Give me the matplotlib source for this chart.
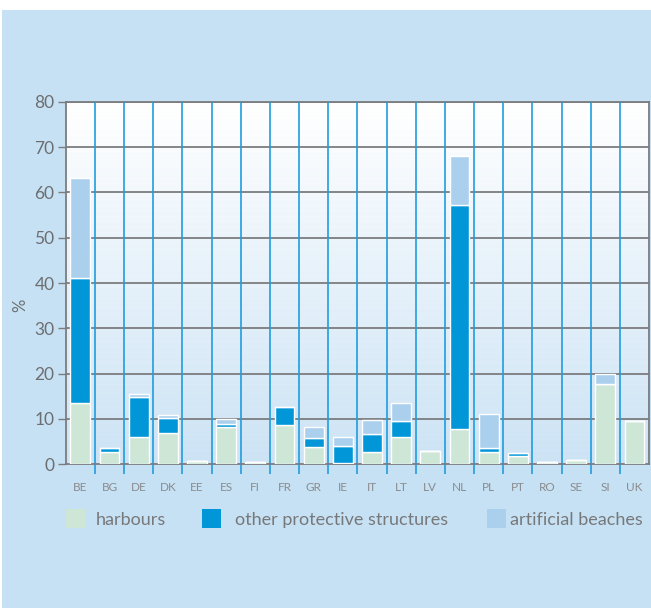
import numpy as np
import matplotlib.pyplot as plt
from matplotlib.patches import Rectangle

# data (% of coastline)
countries = ["BE", "BG", "DE", "DK", "EE", "ES", "FI", "FR", "GR", "IE",
             "IT", "LT", "LV", "NL", "PL", "PT", "RO", "SE", "SI", "UK"]
harbours = [13.5, 2.8, 6.1, 6.9, 0.8, 8.3, 0.4, 8.7, 3.9, 0.2,
            2.8, 6.1, 3.0, 7.7, 2.8, 1.8, 0.4, 0.9, 17.7, 9.6]
other_structures = [27.5, 0.9, 8.8, 3.4, 0.0, 0.7, 0.0, 3.9, 1.8, 3.9,
                    3.8, 3.5, 0.0, 49.6, 0.8, 0.6, 0.0, 0.0, 0.0, 0.0]
artificial_beaches = [22.2, 0.0, 0.7, 0.6, 0.0, 1.1, 0.0, 0.0, 2.6, 2.0,
                      3.1, 3.9, 0.0, 10.7, 7.4, 0.0, 0.0, 0.0, 2.2, 0.0]
series_names = ["harbours", "other protective structures", "artificial beaches"]
y_ticks = [0, 10, 20, 30, 40, 50, 60, 70, 80]

BG = "#c6e1f4"
COLORS = ["#cde6d5", "#0096d8", "#abd0ee"]
GRAY = "#6d6e70"
GRID_BLUE = "#1f9ddf"

W, H = 651, 608
fig = plt.figure(figsize=(W / 100, H / 100), dpi=100, facecolor="white")
plt.rcParams["font.family"] = ["Lato", "DejaVu Sans"]

# blue panel with a thin white margin on top / left
fig.patches.append(Rectangle((2 / W, 0), 1, (H - 10) / H, transform=fig.transFigure,
                             facecolor=BG, edgecolor="none", zorder=-10))

ax = fig.add_axes([65.7 / W, (H - 464.3) / H, (649 - 65.7) / W, 362.6 / H])
ax.set_facecolor("none")

# gradient background inside the plot area
grad = np.linspace(1.0, 0.0, 200)[:, None]
stripes = 0.03 * (np.arange(200)[:, None] % 3 == 0)
img = np.clip(grad + stripes, 0, 1)
top = np.array([1.0, 1.0, 1.0])
bot = np.array([0.80, 0.89, 0.96])
rgb = bot + (top - bot) * img[..., None]
rgb = np.repeat(rgb, 2, axis=1)
ax.imshow(rgb, extent=[-0.5, 19.5, 0, 80], aspect="auto", zorder=0)

x = np.arange(len(countries))
h = np.array(harbours)
o = np.array(other_structures)
a = np.array(artificial_beaches)
bw = 0.68
ax.bar(x, h, bw, color=COLORS[0], edgecolor="white", linewidth=1, zorder=3)
ax.bar(x, o, bw, bottom=h, color=COLORS[1], edgecolor="white", linewidth=1, zorder=3)
ax.bar(x, a, bw, bottom=h + o, color=COLORS[2], edgecolor="white", linewidth=1, zorder=3)

for yv in y_ticks[1:]:
    ax.axhline(yv, color="#7b7c7e", lw=1.3, zorder=1)
for b in np.arange(0.5, 19, 1):
    ax.axvline(b, color=GRID_BLUE, lw=1.2, zorder=2)

ax.set_xlim(-0.5, 19.5)
ax.set_ylim(0, 80)
ax.set_yticks(y_ticks)
ax.set_yticklabels([str(t) for t in y_ticks], fontsize=12.5, color=GRAY)
ax.tick_params(axis="y", direction="out", length=6, width=1, color="#7b7c7e", pad=2)
ax.set_xticks(x)
ax.set_xticklabels(countries, fontsize=8.5, color="#8a8b8d")
ax.tick_params(axis="x", which="major", length=0, pad=13)
ax.set_xticks(np.arange(0.5, 19, 1), minor=True)
ax.tick_params(axis="x", which="minor", direction="out", length=7, width=1.2, color=GRID_BLUE)

for side in ["left", "bottom", "right"]:
    ax.spines[side].set_color("#7b7c7e")
    ax.spines[side].set_linewidth(1.3)
ax.spines["top"].set_visible(False)
ax.axhline(80, color="#7b7c7e", lw=1.3, zorder=1, clip_on=False)

fig.text(20 / W, 1 - 305 / H, "%", rotation=90, fontsize=12, color=GRAY,
         ha="center", va="center")

# legend placed by hand
patch_x = [65.5, 202, 487]
text_x = [96, 235, 510]
for name, col, px, tx in zip(series_names, COLORS, patch_x, text_x):
    fig.patches.append(Rectangle((px / W, 1 - 528 / H), 19 / W, 19 / H,
                                 transform=fig.transFigure, facecolor=col,
                                 edgecolor="none"))
    fig.text(tx / W, 1 - 520 / H, name, fontsize=13, color="#77787a",
             ha="left", va="center")

fig.savefig("out.png", dpi=100, facecolor=fig.get_facecolor())
